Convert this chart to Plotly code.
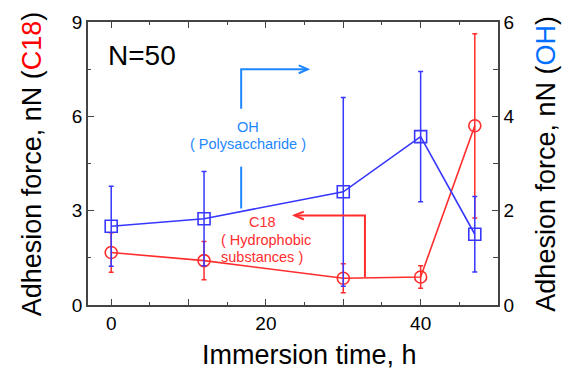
import plotly.graph_objects as go

# Immersion time (h) and adhesion forces (nN) with standard deviations
times = [0, 12, 30, 40, 47]
c18_force = [1.67, 1.41, 0.85, 0.89, 5.70]
c18_err = [0.63, 0.61, 0.46, 0.36, 2.93]
oh_force = [1.67, 1.83, 2.40, 3.57, 1.50]
oh_err = [0.85, 1.00, 2.00, 1.38, 0.80]

x_major = [0, 10, 20, 30, 40]
x_labels = ["0", "", "20", "", "40"]
x_minor = [5, 15, 25, 35, 45]
y_major = [0, 3, 6, 9]
y_minor = [1.5, 4.5, 7.5]
y2_major = [0, 2, 4, 6]
y2_minor = [1, 3, 5]

RED = "rgb(255,45,45)"
BLUE = "rgb(55,55,255)"
NOTE_BLUE = "rgb(30,135,255)"
AXIS = "#444444"
FONT = "Liberation Sans, Arial, sans-serif"

fig = go.Figure()

fig.add_trace(go.Scatter(
    x=times, y=c18_force, mode="lines+markers", name="C18",
    line=dict(color=RED, width=1.6),
    marker=dict(symbol="circle-open", size=12, color=RED, line=dict(width=1.6)),
    error_y=dict(type="data", array=c18_err, visible=True, color=RED,
                 thickness=1.5, width=2.5),
    yaxis="y", showlegend=False,
))

fig.add_trace(go.Scatter(
    x=times, y=oh_force, mode="lines+markers", name="OH",
    line=dict(color=BLUE, width=1.6),
    marker=dict(symbol="square-open", size=12, color=BLUE, line=dict(width=1.6)),
    error_y=dict(type="data", array=oh_err, visible=True, color=BLUE,
                 thickness=1.5, width=2.5),
    yaxis="y2", showlegend=False,
))

# Bracket guides pointing each series to its own axis
shapes = [
    dict(type="path", xref="x", yref="y",
         path="M 16.8,3.07 L 16.8,4.40", line=dict(color=NOTE_BLUE, width=2)),
    dict(type="path", xref="x", yref="y",
         path="M 16.8,6.24 L 16.8,7.50 L 25.4,7.50", line=dict(color=NOTE_BLUE, width=2)),
    dict(type="path", xref="x", yref="y",
         path="M 24.24,7.62 L 25.4,7.50 L 24.24,7.37", line=dict(color=NOTE_BLUE, width=2)),
    dict(type="path", xref="x", yref="y",
         path="M 32.8,0.89 L 32.8,2.85 L 23.7,2.85", line=dict(color=RED, width=2)),
    dict(type="path", xref="x", yref="y",
         path="M 24.9,2.97 L 23.7,2.85 L 24.9,2.72", line=dict(color=RED, width=2)),
]

note_font_blue = dict(size=14.5, color=NOTE_BLUE, family=FONT)
note_font_red = dict(size=14.5, color=RED, family=FONT)

annotations = [
    dict(text="N=50", x=0.045, y=0.88, xref="paper", yref="paper",
         xanchor="left", yanchor="middle", showarrow=False,
         font=dict(size=28, color="black", family=FONT)),
    dict(text="OH", x=17.7, y=5.66, xref="x", yref="y", showarrow=False,
         xanchor="center", yanchor="middle", font=note_font_blue),
    dict(text="( Polysaccharide )", x=17.7, y=5.12, xref="x", yref="y", showarrow=False,
         xanchor="center", yanchor="middle", font=note_font_blue),
    dict(text="C18", x=19.6, y=2.64, xref="x", yref="y", showarrow=False,
         xanchor="center", yanchor="middle", font=note_font_red),
    dict(text="( Hydrophobic", x=13.9, y=2.07, xref="x", yref="y", showarrow=False,
         xanchor="left", yanchor="middle", font=note_font_red),
    dict(text="substances )", x=13.9, y=1.53, xref="x", yref="y", showarrow=False,
         xanchor="left", yanchor="middle", font=note_font_red),
    # axis titles
    dict(text="Adhesion force, nN (<span style='color:rgb(255,0,0)'>C18</span>)",
         x=-0.137, y=0.5, xref="paper", yref="paper", textangle=-90, showarrow=False,
         xanchor="center", yanchor="middle", font=dict(size=27, color="black", family=FONT)),
    dict(text="Adhesion force, nN (<span style='color:rgb(0,110,255)'>OH</span>)",
         x=1.115, y=0.5, xref="paper", yref="paper", textangle=-90, showarrow=False,
         xanchor="center", yanchor="middle", font=dict(size=27, color="black", family=FONT)),
    dict(text="Immersion time, h", x=0.54, y=-0.175, xref="paper", yref="paper",
         showarrow=False, xanchor="center", yanchor="middle",
         font=dict(size=27, color="black", family=FONT)),
]

axis_common = dict(
    showgrid=False, zeroline=False, showline=True, linecolor=AXIS, linewidth=1.5,
    ticks="inside", ticklen=6, tickwidth=1.3, tickcolor=AXIS,
    tickfont=dict(size=19, color="black", family=FONT),
)

fig.update_layout(
    width=570, height=373,
    margin=dict(l=88, r=72, t=12, b=68),
    paper_bgcolor="white", plot_bgcolor="white",
    xaxis=dict(range=[-3, 50], tickmode="array", tickvals=x_major, ticktext=x_labels,
               mirror="ticks",
               minor=dict(tickvals=x_minor, ticks="inside", ticklen=3, tickcolor=AXIS),
               **axis_common),
    yaxis=dict(range=[0, 9], tickmode="array", tickvals=y_major,
               minor=dict(tickvals=y_minor, ticks="inside", ticklen=3, tickcolor=AXIS),
               **axis_common),
    yaxis2=dict(range=[0, 6], tickmode="array", tickvals=y2_major, overlaying="y",
                side="right",
                minor=dict(tickvals=y2_minor, ticks="inside", ticklen=5, tickcolor=AXIS),
                **axis_common),
    shapes=shapes,
    annotations=annotations,
)

fig.write_html("out.html")
